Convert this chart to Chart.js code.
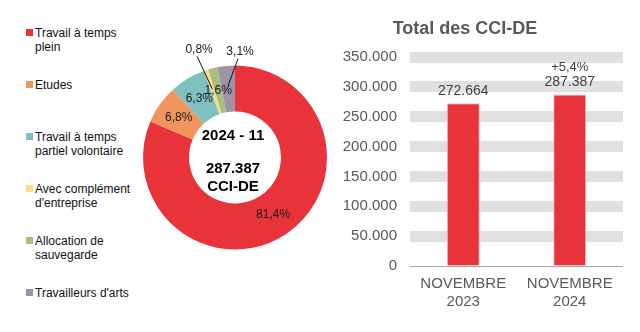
<!DOCTYPE html>
<html>
<head>
<meta charset="utf-8">
<script src="https://cdn.jsdelivr.net/npm/chart.js@4.4.1/dist/chart.umd.min.js"></script>
<style>
  body { margin: 0; width: 640px; height: 332px; background: #fff; position: relative; overflow: hidden;
         font-family: "Liberation Sans", Arial, sans-serif; }
  #pie { position: absolute; left: 130px; top: 20px; }
  #bar { position: absolute; left: 330px; top: 0; }
  .item { position: absolute; left: 26px; padding-left: 9px; font-size: 12px; line-height: 14px;
          color: #111; white-space: pre-line; }
  .item span { position: absolute; left: 0; top: 3px; width: 7px; height: 7px; }
</style>
</head>
<body>
<div id="legend"></div>
<canvas id="pie" width="210" height="275"></canvas>
<canvas id="bar" width="310" height="332"></canvas>
<script>
// donut: breakdown for the month
const period = '2024 - 11';
const categories = ['Travail à temps\nplein', 'Etudes', 'Travail à temps\npartiel volontaire',
                    'Avec complément\nd\'entreprise', 'Allocation de\nsauvegarde', 'Travailleurs d\'arts'];
const shares = [81.4, 6.8, 6.3, 0.8, 1.6, 3.1];
const sliceColors = ['#e8333a', '#f0955e', '#7fc1c1', '#fcd98f', '#a7c080', '#a093a8'];

// bars: totals
const months = ['NOVEMBRE 2023', 'NOVEMBRE 2024'];
const totals = [272664, 287387];
const yMax = 350000;
const yStep = 50000;

const FONT = '"Liberation Sans", Arial, sans-serif';
const fmt = n => String(Math.round(n)).replace(/\B(?=(\d{3})+(?!\d))/g, '.');
const fmtPct = v => v.toFixed(1).replace('.', ',') + '%';

// legend (html so the labels can wrap)
const legend = document.getElementById('legend');
categories.forEach((c, i) => {
  const d = document.createElement('div');
  d.className = 'item';
  d.style.top = (26 + i * 52) + 'px';
  d.textContent = c;
  const sq = document.createElement('span');
  sq.style.background = sliceColors[i];
  d.appendChild(sq);
  legend.appendChild(d);
});

// small slices get their label outside with a leader line
const outside = { 3: { gap: 22, shift: 0 }, 5: { gap: 14, shift: 0.145 } };

const sliceLabels = {
  id: 'sliceLabels',
  afterDatasetsDraw(chart) {
    const c = chart.ctx;
    const arcs = chart.getDatasetMeta(0).data;
    c.save();
    c.font = '12px ' + FONT;
    c.fillStyle = '#1a1a1a';
    c.strokeStyle = '#111';
    c.lineWidth = 1;
    c.textAlign = 'center';
    c.textBaseline = 'middle';
    arcs.forEach((arc, i) => {
      const p = arc.getProps(['x', 'y', 'startAngle', 'endAngle', 'innerRadius', 'outerRadius']);
      const mid = (p.startAngle + p.endAngle) / 2;
      const rMid = (p.innerRadius + p.outerRadius) / 2;
      const o = outside[i];
      if (o) {
        const a = mid + o.shift;
        const r = p.outerRadius + o.gap;
        const lx = p.x + Math.cos(a) * r;
        const ly = p.y + Math.sin(a) * r;
        c.beginPath();
        c.moveTo(lx - 2, ly + 7);
        c.lineTo(p.x + Math.cos(mid) * (rMid + 3), p.y + Math.sin(mid) * (rMid + 3));
        c.stroke();
        c.fillText(fmtPct(shares[i]), lx, ly);
      } else {
        c.fillText(fmtPct(shares[i]), p.x + Math.cos(mid) * rMid, p.y + Math.sin(mid) * rMid);
      }
    });
    // centre text
    const a0 = arcs[0];
    c.fillStyle = '#000';
    c.font = 'bold 15px ' + FONT;
    c.fillText(period, a0.x - 2, a0.y - 22);
    c.fillText(fmt(totals[totals.length - 1]), a0.x - 2, a0.y + 11);
    c.fillText('CCI-DE', a0.x - 2, a0.y + 29);
    c.restore();
  }
};

new Chart(document.getElementById('pie'), {
  type: 'doughnut',
  data: {
    labels: categories,
    datasets: [{ data: shares, backgroundColor: sliceColors, borderWidth: 0 }]
  },
  options: {
    responsive: false,
    animation: false,
    cutout: '50%',
    layout: { padding: { left: 13, right: 13, top: 45.5, bottom: 45.5 } },
    plugins: { legend: { display: false }, tooltip: { enabled: false } }
  },
  plugins: [sliceLabels]
});

const barLabels = {
  id: 'barLabels',
  afterDatasetsDraw(chart) {
    const c = chart.ctx;
    const bars = chart.getDatasetMeta(0).data;
    c.save();
    c.textAlign = 'center';
    c.textBaseline = 'middle';
    c.fillStyle = '#404040';
    bars.forEach((b, i) => {
      c.font = '14px ' + FONT;
      c.fillText(fmt(totals[i]), b.x, b.y - 12);
      if (i > 0) {
        const pct = (totals[i] / totals[i - 1] - 1) * 100;
        c.font = '13px ' + FONT;
        c.fillText((pct >= 0 ? '+' : '') + fmtPct(pct), b.x, b.y - 27);
      }
    });
    // title
    c.fillStyle = '#595959';
    c.font = 'bold 18px ' + FONT;
    c.fillText('Total des CCI-DE', 135, 29);
    c.restore();
  }
};

const isZero = ctx => ctx.tick && ctx.tick.value === 0;

new Chart(document.getElementById('bar'), {
  type: 'bar',
  data: {
    labels: months.map(m => m.split(' ')),
    datasets: [{
      data: totals,
      backgroundColor: '#e8333a',
      borderColor: '#f5c4c6',
      borderWidth: 1,
      barPercentage: 0.31,
      categoryPercentage: 1
    }]
  },
  options: {
    responsive: false,
    animation: false,
    layout: { padding: { top: 57, right: 17, left: 0, bottom: 0 } },
    plugins: { legend: { display: false }, tooltip: { enabled: false } },
    scales: {
      x: {
        grid: { display: false, drawTicks: false },
        border: { display: false },
        ticks: { padding: 9, color: '#595959', font: { size: 15, family: FONT } },
        afterFit(s) { s.height = 66; }
      },
      y: {
        min: 0,
        max: yMax,
        ticks: { stepSize: yStep, padding: 13, color: '#595959', font: { size: 15, family: FONT },
                 callback: v => fmt(v) },
        grid: {
          drawTicks: false,
          lineWidth: ctx => isZero(ctx) ? 1 : 11,
          color: ctx => isZero(ctx) ? '#a6a6a6' : '#e0e0e0'
        },
        border: { display: false },
        afterFit(s) { s.width = 80; }
      }
    }
  },
  plugins: [barLabels]
});
</script>
</body>
</html>
